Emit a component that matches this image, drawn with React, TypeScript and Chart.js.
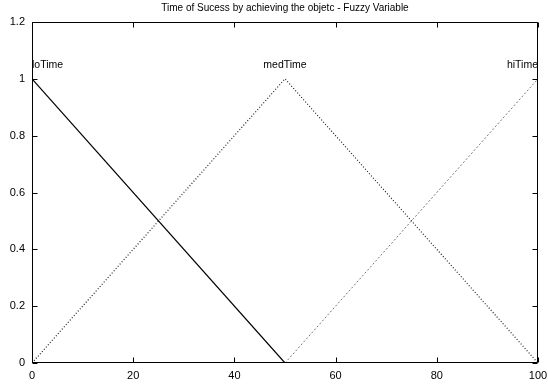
import React, { useEffect, useRef } from "react";
import { Chart, registerables } from "chart.js";

Chart.register(...registerables);

const TITLE = "Time of Sucess by achieving the objetc - Fuzzy Variable";
const X_TICKS = [0, 20, 40, 60, 80, 100];
const Y_TICKS = [0, 0.2, 0.4, 0.6, 0.8, 1, 1.2];

const LO_X = [0, 50];
const LO_Y = [1, 0];
const MED_X = [0, 50, 100];
const MED_Y = [0, 1, 0];
const HI_X = [50, 100];
const HI_Y = [0, 1];

const SET_NAMES = ["loTime", "medTime", "hiTime"];
const SET_LABEL_X = [0, 50, 100];
const SET_LABEL_Y = 1.05;

const FONT = "'Liberation Sans', Arial, Helvetica, sans-serif";

const pts = (xs: number[], ys: number[]) => xs.map((x, i) => ({ x, y: ys[i] }));

const framePlugin = {
  id: "frame",
  afterDraw(chart: any) {
    const { ctx, chartArea: a, scales } = chart;
    const xs = scales.x;
    const ys = scales.y;
    ctx.save();
    ctx.strokeStyle = "#000";
    ctx.lineWidth = 1;
    ctx.beginPath();
    const L = Math.round(a.left) + 0.5;
    const R = Math.round(a.right) - 0.5;
    const T = Math.round(a.top) + 0.5;
    const B = Math.round(a.bottom) - 0.5;
    ctx.rect(L, T, R - L, B - T);
    const tl = 5;
    X_TICKS.forEach((v) => {
      const px = Math.round(xs.getPixelForValue(v)) + 0.5;
      ctx.moveTo(px, B);
      ctx.lineTo(px, B - tl);
      ctx.moveTo(px, T);
      ctx.lineTo(px, T + tl);
    });
    Y_TICKS.forEach((v) => {
      const py = Math.round(ys.getPixelForValue(v)) + 0.5;
      ctx.moveTo(L, py);
      ctx.lineTo(L + tl, py);
      ctx.moveTo(R, py);
      ctx.lineTo(R - tl, py);
    });
    ctx.stroke();

    ctx.fillStyle = "#000";
    ctx.font = `10px ${FONT}`;
    ctx.textAlign = "center";
    ctx.textBaseline = "middle";
    ctx.fillText(TITLE, (a.left + a.right) / 2, 8);

    ctx.font = `10.5px ${FONT}`;
    const aligns = ["left", "center", "right"];
    SET_NAMES.forEach((n, i) => {
      ctx.textAlign = aligns[i];
      ctx.fillText(n, xs.getPixelForValue(SET_LABEL_X[i]), ys.getPixelForValue(SET_LABEL_Y));
    });
    ctx.restore();
  },
};

export default function App() {
  const ref = useRef<HTMLCanvasElement | null>(null);
  useEffect(() => {
    document.body.style.margin = "0";
    const chart = new Chart(ref.current!, {
      type: "line",
      data: {
        datasets: [
          {
            label: "loTime",
            data: pts(LO_X, LO_Y),
            borderColor: "#000",
            borderWidth: 1.2,
            pointRadius: 0,
            fill: false,
          },
          {
            label: "medTime",
            data: pts(MED_X, MED_Y),
            borderColor: "#222",
            borderWidth: 1.2,
            borderDash: [1, 2],
            pointRadius: 0,
            fill: false,
          },
          {
            label: "hiTime",
            data: pts(HI_X, HI_Y),
            borderColor: "#555",
            borderWidth: 0.8,
            borderDash: [2, 2],
            pointRadius: 0,
            fill: false,
          },
        ],
      },
      plugins: [framePlugin],
      options: {
        animation: false,
        responsive: false,
        events: [],
        layout: { padding: { top: 22, right: 10, left: 0, bottom: 0 } },
        plugins: {
          legend: { display: false },
          tooltip: { enabled: false },
          title: { display: false },
        },
        scales: {
          x: {
            type: "linear",
            min: 0,
            max: 100,
            afterBuildTicks: (s: any) => {
              s.ticks = X_TICKS.map((v) => ({ value: v }));
            },
            afterFit: (s: any) => {
              s.height = 24;
              s.paddingLeft = 0;
              s.paddingRight = 0;
            },
            grid: { display: false, drawTicks: false },
            border: { display: false },
            ticks: {
              color: "#000",
              padding: 6,
              maxRotation: 0,
              font: { family: FONT, size: 11 },
              callback: (v: any) => String(Number(Number(v).toFixed(1))),
            },
          },
          y: {
            type: "linear",
            min: 0,
            max: 1.2,
            afterBuildTicks: (s: any) => {
              s.ticks = Y_TICKS.map((v) => ({ value: v }));
            },
            afterFit: (s: any) => {
              s.width = 32;
              s.paddingTop = 0;
              s.paddingBottom = 0;
            },
            grid: { display: false, drawTicks: false },
            border: { display: false },
            ticks: {
              color: "#000",
              padding: 7,
              font: { family: FONT, size: 11 },
              callback: (v: any) => String(Number(Number(v).toFixed(1))),
            },
          },
        },
      },
    });
    return () => chart.destroy();
  }, []);
  return <canvas ref={ref} width={548} height={387} style={{ display: "block" }} />;
}
